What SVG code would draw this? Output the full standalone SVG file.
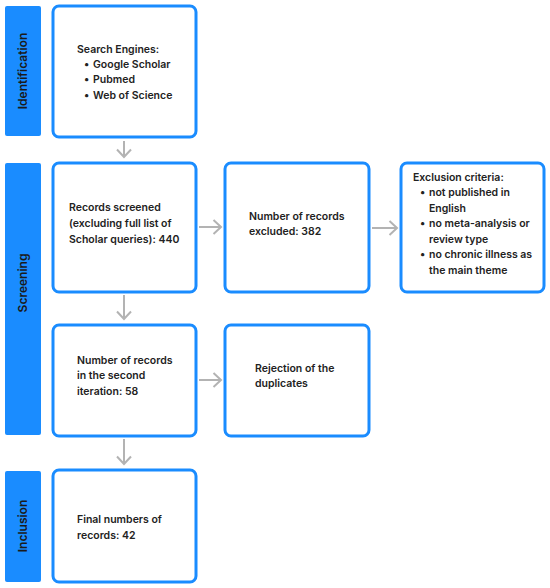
<svg xmlns="http://www.w3.org/2000/svg" width="550" height="588" viewBox="0 0 550 588">
<defs>
<style>
.bar{fill:#1a8cff;}
.box{fill:#ffffff;stroke:#1a8cff;stroke-width:3;}
.t{font-family:Inter,"Noto Sans","Liberation Sans",sans-serif;font-weight:600;font-size:10.5px;fill:#222;}
.side{font-family:Inter,"Noto Sans","Liberation Sans",sans-serif;font-weight:600;font-size:12px;fill:#1a1a1a;text-anchor:middle;}
.c{stroke:#b3b3b3;stroke-width:2;fill:none;}
</style>
<marker id="ah" markerWidth="16" markerHeight="18" refX="9" refY="8" orient="auto" markerUnits="userSpaceOnUse">
<path d="M1.5,1 L9,8 L1.5,15" fill="none" stroke="#b3b3b3" stroke-width="2"/>
</marker>
</defs>
<rect width="550" height="588" fill="#ffffff"/>

<g id="stage-identification">
<rect class="bar" x="5" y="6" width="36" height="130" rx="2"/>
<text class="side" transform="translate(27,71) rotate(-90)">Identification</text>
</g>
<g id="stage-screening">
<rect class="bar" x="5" y="163" width="36" height="272" rx="2"/>
<text class="side" transform="translate(27,283) rotate(-90)">Screening</text>
</g>
<g id="stage-inclusion">
<rect class="bar" x="5" y="471" width="36" height="111" rx="2"/>
<text class="side" transform="translate(27,526) rotate(-90)">Inclusion</text>
</g>

<g id="search-engines">
<rect class="box" x="53" y="6" width="143" height="131" rx="6"/>
<text class="t" x="77" y="53">Search Engines:</text>
<text class="t" x="84" y="68">•</text><text class="t" x="93" y="68">Google Scholar</text>
<text class="t" x="84" y="83">•</text><text class="t" x="93" y="83">Pubmed</text>
<text class="t" x="84" y="99">•</text><text class="t" x="93" y="99">Web of Science</text>
</g>

<g id="records-screened">
<rect class="box" x="53" y="163" width="143" height="129" rx="6"/>
<text class="t" x="69" y="211">Records screened</text>
<text class="t" x="69" y="227">(excluding full list of</text>
<text class="t" x="69" y="243">Scholar queries): 440</text>
</g>

<g id="records-excluded">
<rect class="box" x="225" y="163" width="144" height="129" rx="6"/>
<text class="t" x="249" y="220">Number of records</text>
<text class="t" x="249" y="235">excluded: 382</text>
</g>

<g id="exclusion-criteria">
<rect class="box" x="401" y="163" width="143" height="129" rx="6"/>
<text class="t" x="413" y="181">Exclusion criteria:</text>
<text class="t" x="420" y="196">•</text><text class="t" x="429" y="196">not published in</text>
<text class="t" x="429" y="212">English</text>
<text class="t" x="420" y="227">•</text><text class="t" x="429" y="227">no meta-analysis or</text>
<text class="t" x="429" y="243">review type</text>
<text class="t" x="420" y="258">•</text><text class="t" x="429" y="258">no chronic illness as</text>
<text class="t" x="429" y="274">the main theme</text>
</g>

<g id="second-iteration">
<rect class="box" x="53" y="325" width="143" height="111" rx="6"/>
<text class="t" x="77" y="364">Number of records</text>
<text class="t" x="77" y="379">in the second</text>
<text class="t" x="77" y="395">iteration: 58</text>
</g>

<g id="rejection-duplicates">
<rect class="box" x="225" y="325" width="144" height="111" rx="6"/>
<text class="t" x="255" y="372">Rejection of the</text>
<text class="t" x="255" y="387">duplicates</text>
</g>

<g id="final-records">
<rect class="box" x="53" y="470" width="143" height="112" rx="6"/>
<text class="t" x="77" y="523">Final numbers of</text>
<text class="t" x="77" y="539">records: 42</text>
</g>

<g id="connectors">
<line class="c" x1="124" y1="141" x2="124" y2="157" marker-end="url(#ah)"/>
<line class="c" x1="124" y1="295" x2="124" y2="319" marker-end="url(#ah)"/>
<line class="c" x1="124" y1="439" x2="124" y2="464" marker-end="url(#ah)"/>
<line class="c" x1="199" y1="227" x2="221" y2="227" marker-end="url(#ah)"/>
<line class="c" x1="372" y1="228" x2="397" y2="228" marker-end="url(#ah)"/>
<line class="c" x1="199" y1="380" x2="221" y2="380" marker-end="url(#ah)"/>
</g>
</svg>
